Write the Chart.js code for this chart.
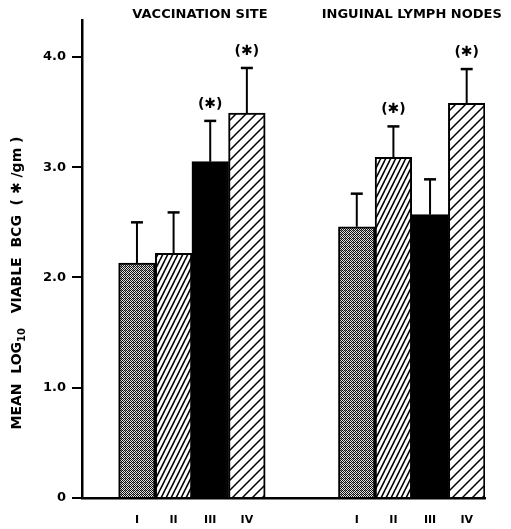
<!DOCTYPE html>
<html>
<head>
<meta charset="utf-8">
<script src="https://cdn.jsdelivr.net/npm/chart.js@4.4.1/dist/chart.umd.min.js"></script>
<style>
html, body { margin: 0; padding: 0; background: #fff; }
</style>
</head>
<body>
<canvas id="grafica" width="511" height="529"></canvas>
<script>
// categorias: hueco, grupo 1 (I-IV), dos huecos, grupo 2 (I-IV)
const categorias = ['', 'I', 'II', 'III', 'IV', '', '', 'I', 'II', 'III', 'IV'];
const medias = [null, 2.13, 2.22, 3.05, 3.49, null, null, 2.46, 3.09, 2.57, 3.58];
const limiteError = [null, 2.50, 2.59, 3.42, 3.90, null, null, 2.76, 3.37, 2.89, 3.89];
const significativo = [false, false, false, true, true, false, false, false, true, false, true];
const tramas = [null, 'punteado', 'rayado', 'negro', 'rayadoAncho', null, null, 'punteado', 'rayado', 'negro', 'rayadoAncho'];
const titulosGrupo = ['VACCINATION SITE', 'INGUINAL LYMPH NODES'];
const yTicks = [0, 1, 2, 3, 4];
const yEtiquetas = ['0', '1.0', '2.0', '3.0', '4.0'];

const FUENTE = '"DejaVu Sans", "Liberation Sans", Arial, sans-serif';
const anclaTitulos = [2.72, 8.5];

function crearTrama(tipo) {
    const c = document.createElement('canvas');
    const g = c.getContext('2d');
    if (tipo === 'negro') return '#000';
    if (tipo === 'punteado') {
        c.width = 4; c.height = 4;
        g.fillStyle = '#e0e0e0';
        g.fillRect(0, 0, 4, 4);
        g.fillStyle = '#111';
        for (let y = 0; y < 4; y++) {
            for (let x = 0; x < 4; x++) {
                if ((x + y) % 2 === 0) g.fillRect(x, y, 1, 1);
            }
        }
        g.fillStyle = '#777';
        g.fillRect(1, 2, 1, 1);
        return g.createPattern(c, 'repeat');
    }
    if (tipo === 'rayado') {
        c.width = 5; c.height = 10;
        g.fillStyle = '#fff';
        g.fillRect(0, 0, 5, 10);
        g.strokeStyle = '#000';
        g.lineWidth = 1.6;
        g.beginPath();
        for (let k = -2; k <= 2; k++) {
            g.moveTo(k * 5 - 5, 20); g.lineTo(k * 5 + 5, 0);
        }
        g.stroke();
        return g.createPattern(c, 'repeat');
    }
    if (tipo === 'rayadoAncho') {
        c.width = 10; c.height = 10;
        g.fillStyle = '#fff';
        g.fillRect(0, 0, 10, 10);
        g.strokeStyle = '#000';
        g.lineWidth = 1.5;
        g.beginPath();
        g.moveTo(-10, 10); g.lineTo(10, -10);
        g.moveTo(0, 10); g.lineTo(10, 0);
        g.moveTo(0, 20); g.lineTo(20, 0);
        g.stroke();
        return g.createPattern(c, 'repeat');
    }
    return 'rgba(0,0,0,0)';
}

const rellenos = tramas.map(t => crearTrama(t));

const pluginExtras = {
    id: 'extras',
    afterDatasetsDraw(chart) {
        const ctx = chart.ctx;
        const x = chart.scales.x;
        const y = chart.scales.y;
        ctx.save();
        ctx.strokeStyle = '#000';
        ctx.fillStyle = '#000';
        for (let i = 0; i < medias.length; i++) {
            if (medias[i] === null) continue;
            const px = x.getPixelForValue(i);
            const yTop = y.getPixelForValue(medias[i]);
            const yErr = y.getPixelForValue(limiteError[i]);
            ctx.lineWidth = 2;
            ctx.beginPath();
            ctx.moveTo(px, yTop);
            ctx.lineTo(px, yErr);
            ctx.stroke();
            ctx.lineWidth = 2.5;
            ctx.beginPath();
            ctx.moveTo(px - 6, yErr);
            ctx.lineTo(px + 6, yErr);
            ctx.stroke();
            if (significativo[i]) {
                ctx.font = 'bold 14px ' + FUENTE;
                ctx.textAlign = 'center';
                ctx.textBaseline = 'middle';
                ctx.fillText('(\u2731)', px, yErr - 17);
            }
        }
        ctx.restore();
    },
    afterDraw(chart) {
        const ctx = chart.ctx;
        const x = chart.scales.x;
        ctx.save();
        ctx.fillStyle = '#000';
        ctx.font = 'bold 13px ' + FUENTE;
        ctx.textAlign = 'center';
        ctx.textBaseline = 'middle';
        titulosGrupo.forEach((t, k) => {
            ctx.fillText(t, x.getPixelForValue(anclaTitulos[k]), 15);
        });

        // titulo del eje y con subindice
        const partes = [
            { t: 'MEAN  LOG', f: 'bold 14px ' + FUENTE, dy: 0 },
            { t: '10', f: 'bold 10px ' + FUENTE, dy: 5 },
            { t: '   VIABLE  BCG  ( \u2731 /gm )', f: 'bold 14px ' + FUENTE, dy: 0 }
        ];
        let total = 0;
        partes.forEach(p => { ctx.font = p.f; p.w = ctx.measureText(p.t).width; total += p.w; });
        ctx.translate(17, 283);
        ctx.rotate(-Math.PI / 2);
        ctx.textAlign = 'left';
        let pos = -total / 2;
        partes.forEach(p => {
            ctx.font = p.f;
            ctx.fillText(p.t, pos, p.dy);
            pos += p.w;
        });
        ctx.restore();
    }
};

new Chart(document.getElementById('grafica'), {
    type: 'bar',
    data: {
        labels: categorias,
        datasets: [{
            data: medias,
            backgroundColor: rellenos,
            borderColor: '#000',
            borderWidth: 2,
            borderSkipped: 'bottom',
            barPercentage: 1,
            categoryPercentage: 1
        }]
    },
    options: {
        responsive: false,
        animation: false,
        devicePixelRatio: 1,
        layout: { padding: { top: 20, right: 26, left: 0, bottom: 0 } },
        plugins: { legend: { display: false }, tooltip: { enabled: false } },
        scales: {
            x: {
                grid: { display: false },
                border: { display: true, color: '#000', width: 2.5 },
                ticks: {
                    color: '#000',
                    padding: 8,
                    maxRotation: 0,
                    autoSkip: false,
                    font: { family: FUENTE, size: 11, weight: 'bold' }
                },
                afterFit(scale) { scale.height = 31; }
            },
            y: {
                min: 0,
                max: 4.335,
                afterBuildTicks(scale) { scale.ticks = yTicks.map(v => ({ value: v })); },
                grid: { drawOnChartArea: false, drawTicks: true, tickLength: 10, color: '#000', lineWidth: 2 },
                border: { display: true, color: '#000', width: 2.5 },
                ticks: {
                    color: '#000',
                    padding: 6,
                    font: { family: FUENTE, size: 13, weight: 'bold' },
                    callback(value) { return yEtiquetas[yTicks.indexOf(value)]; }
                },
                afterFit(scale) { scale.width = 82; }
            }
        }
    },
    plugins: [pluginExtras]
});
</script>
</body>
</html>
